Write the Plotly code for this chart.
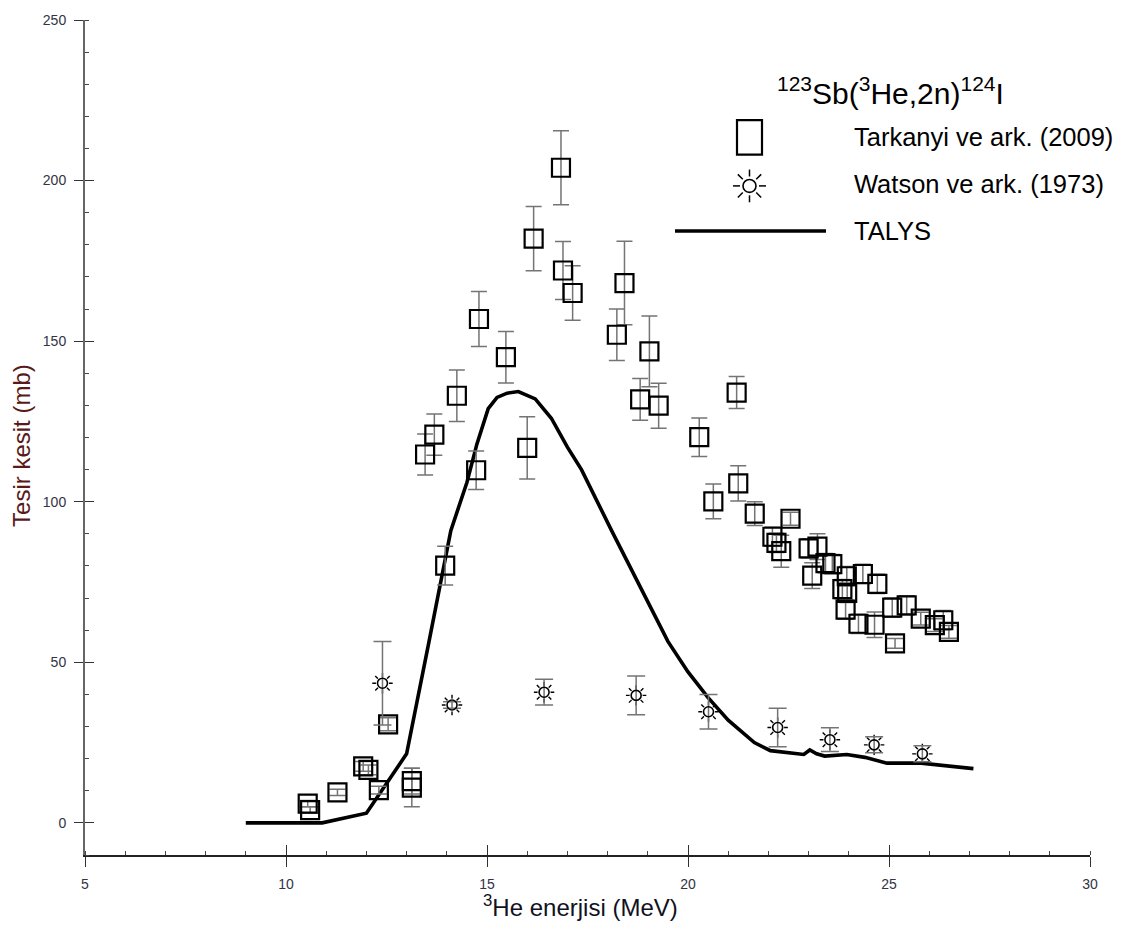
import plotly.graph_objects as go
import math

# ---------------- data ----------------
tark_E = [10.54, 10.60, 11.28, 11.92, 12.05, 12.31, 12.54, 13.13, 13.13, 13.46, 13.69, 13.96,
          14.25, 14.73, 14.80, 15.47, 16.00, 16.16, 16.84, 16.89, 17.13, 18.23, 18.42, 18.81,
          19.04, 19.27, 20.28, 20.63, 21.21, 21.25, 21.66, 22.10, 22.20, 22.32, 22.55, 23.00,
          23.22, 23.09, 23.42, 23.59, 23.84, 23.96, 23.92, 23.95, 24.24, 24.35, 24.64, 24.71,
          25.08, 25.15, 25.44, 25.79, 26.14, 26.35, 26.49]
tark_sig = [6.0, 4.0, 9.5, 17.6, 16.5, 10.2, 30.7, 13.0, 11.0, 114.7, 120.9, 80.1,
            133.0, 109.8, 156.9, 145.0, 116.8, 181.9, 204.0, 172.0, 165.0, 152.0, 168.1, 131.9,
            146.8, 129.9, 120.1, 100.1, 134.0, 105.7, 96.3, 89.1, 87.2, 84.6, 94.7, 85.5,
            86.0, 77.0, 80.9, 80.6, 72.8, 71.6, 66.4, 76.8, 62.0, 77.5, 61.7, 74.4,
            67.0, 55.9, 67.7, 63.6, 61.6, 63.1, 59.5]
tark_err = [1.0, 1.0, 1.0, 1.5, 1.5, 1.2, 2.0, 4.0, 6.0, 6.4, 6.4, 6.0,
            8.0, 6.0, 8.6, 8.0, 9.7, 10.0, 11.5, 9.0, 8.5, 8.0, 13.0, 6.5,
            11.0, 7.0, 6.0, 5.4, 5.0, 5.5, 3.7, 3.0, 3.0, 5.0, 2.0, 3.0,
            4.0, 4.0, 3.0, 3.0, 3.0, 3.0, 3.0, 3.0, 3.0, 3.0, 4.0, 3.0,
            3.0, 1.5, 3.0, 2.0, 2.0, 3.0, 2.0]

wat_E = [12.40, 14.13, 16.42, 18.71, 20.51, 22.23, 23.53, 24.63, 25.83]
wat_sig = [43.5, 36.7, 40.7, 39.7, 34.6, 29.7, 25.9, 24.3, 21.5]
wat_err = [13.0, 1.0, 4.0, 6.0, 5.4, 6.0, 3.7, 2.5, 2.5]

talys_E = [9.0, 10.9, 12.0, 13.0, 13.55, 14.1, 14.5, 14.75, 15.03, 15.25, 15.5, 15.78,
           16.2, 16.6, 17.0, 17.35, 18.1, 18.5, 19.0, 19.5, 20.0, 20.5, 21.0, 21.65,
           22.05, 22.5, 22.88, 23.03, 23.2, 23.4, 23.95, 24.4, 24.95, 25.8, 26.1, 27.1]
talys_sig = [0, 0, 3, 21.5, 56, 91, 106, 118, 129, 132.5, 133.8, 134.3,
             132, 126, 117, 110, 91, 81, 69, 56.5, 47, 39, 32, 25,
             22.5, 22, 21.3, 22.7, 21.5, 20.8, 21.3, 20.4, 18.6, 18.6, 18.2, 16.9]

x_ticks = [5, 10, 15, 20, 25, 30]
y_ticks = [0, 50, 100, 150, 200, 250]

legend_title = "<sup>123</sup>Sb(<sup>3</sup>He,2n)<sup>124</sup>I"
legend_labels = ["Tarkanyi ve ark. (2009)", "Watson ve ark. (1973)", "TALYS"]
x_title = "<sup>3</sup>He enerjisi (MeV)"
y_title = "Tesir kesit (mb)"

# ---------------- layout geometry ----------------
W, H = 1140, 925
L, R, T, B = 85, 50, 12, 70
PW, PH = W - L - R, H - T - B

def px(x):
    return (x - L) / PW

def py(y):
    return (H - B - y) / PH

SANS = "Liberation Sans, Arial, sans-serif"
ERRC = "#747474"

fig = go.Figure()

fig.add_trace(go.Scatter(
    x=talys_E, y=talys_sig, mode="lines",
    line=dict(color="black", width=3.6), showlegend=False, hoverinfo="skip"))

fig.add_trace(go.Scatter(
    x=tark_E, y=tark_sig, mode="markers",
    marker=dict(symbol="square-open", size=18, color="black", line=dict(width=2.2, color="black")),
    error_y=dict(type="data", array=tark_err, visible=True, color=ERRC, thickness=1.5, width=8),
    showlegend=False))

# Watson: sun-like marker built from rays + white mask + circle
fig.add_trace(go.Scatter(
    x=wat_E, y=wat_sig, mode="markers",
    marker=dict(symbol="asterisk-open", size=17, color="black", line=dict(width=1.4, color="black")),
    showlegend=False, hoverinfo="skip"))
fig.add_trace(go.Scatter(
    x=wat_E, y=wat_sig, mode="markers",
    marker=dict(symbol="circle", size=13, color="white", line=dict(width=0, color="white")),
    showlegend=False, hoverinfo="skip"))
fig.add_trace(go.Scatter(
    x=wat_E, y=wat_sig, mode="markers",
    marker=dict(symbol="circle-open", size=10, color="black", line=dict(width=1.6, color="black")),
    error_y=dict(type="data", array=wat_err, visible=True, color=ERRC, thickness=1.5, width=9),
    showlegend=False))

# empty trace for overlay axes (inside major ticks)
fig.add_trace(go.Scatter(x=[], y=[], xaxis="x2", yaxis="y2", showlegend=False))

tickfont = dict(family=SANS, size=14, color="#333344")

fig.update_layout(
    width=W, height=H,
    margin=dict(l=L, r=R, t=T, b=B),
    paper_bgcolor="white", plot_bgcolor="white",
    showlegend=False,
    xaxis=dict(range=[5, 30], tickvals=x_ticks, ticks="outside", ticklen=10, tickwidth=1.3,
               tickcolor="#333", showline=True, linecolor="#222", linewidth=1.5,
               showgrid=False, zeroline=False, tickfont=tickfont, ticklabelstandoff=5,
               minor=dict(dtick=1, ticks="inside", ticklen=4, tickcolor="#444", tickwidth=1, showgrid=False)),
    yaxis=dict(range=[-10, 250], tickvals=y_ticks, ticks="outside", ticklen=9, tickwidth=1.3,
               tickcolor="#333", showline=True, linecolor="#666", linewidth=2,
               showgrid=False, zeroline=False, tickfont=tickfont, ticklabelstandoff=5,
               minor=dict(dtick=10, ticks="inside", ticklen=4, tickcolor="#444", tickwidth=1, showgrid=False)),
    xaxis2=dict(range=[5, 30], overlaying="x", anchor="y", side="bottom", tickvals=x_ticks,
                ticks="inside", ticklen=10, tickwidth=1.3, tickcolor="#333", showticklabels=False,
                showline=False, showgrid=False, zeroline=False),
    yaxis2=dict(range=[-10, 250], overlaying="y", anchor="x", side="left", tickvals=y_ticks,
                ticks="inside", ticklen=9, tickwidth=1.3, tickcolor="#333", showticklabels=False,
                showline=False, showgrid=False, zeroline=False),
)

annotations = [
    dict(text=y_title, x=px(22), y=py(442), xref="paper", yref="paper", textangle=-90,
         showarrow=False, font=dict(family=SANS, size=24, color="#5a1a1a"),
         xanchor="center", yanchor="middle"),
    dict(text=x_title, x=px(580), y=py(906), xref="paper", yref="paper",
         showarrow=False, font=dict(family=SANS, size=24, color="#111122"),
         xanchor="center", yanchor="middle"),
    dict(text=legend_title, x=px(890), y=py(84), xref="paper", yref="paper",
         showarrow=False, font=dict(family=SANS, size=30, color="black"),
         xanchor="center", yanchor="middle"),
]
for lab, yc in zip(legend_labels, [130, 178, 225]):
    annotations.append(dict(text=lab, x=px(852), y=py(yc), xref="paper", yref="paper",
                            showarrow=False, font=dict(family=SANS, size=25.5, color="black"),
                            xanchor="left", yanchor="middle"))
fig.update_layout(annotations=annotations)

# legend symbols (layout decoration, paper coordinates)
shapes = []
shapes.append(dict(type="rect", xref="paper", yref="paper",
                   x0=px(737), x1=px(762), y0=py(148), y1=py(113),
                   line=dict(color="black", width=2.2)))
cx, cy, r = 749.5, 179.5, 6.5
shapes.append(dict(type="circle", xref="paper", yref="paper",
                   x0=px(cx - r), x1=px(cx + r), y0=py(cy + r), y1=py(cy - r),
                   line=dict(color="black", width=1.6)))
for k in range(8):
    a = k * math.pi / 4
    r0, r1 = 9.5, 16.5
    shapes.append(dict(type="line", xref="paper", yref="paper",
                       x0=px(cx + r0 * math.cos(a)), y0=py(cy + r0 * math.sin(a)),
                       x1=px(cx + r1 * math.cos(a)), y1=py(cy + r1 * math.sin(a)),
                       line=dict(color="black", width=1.5)))
shapes.append(dict(type="line", xref="paper", yref="paper",
                   x0=px(675), x1=px(826), y0=py(225), y1=py(225),
                   line=dict(color="black", width=3.6)))
fig.update_layout(shapes=shapes)

fig.write_html("out.html")
